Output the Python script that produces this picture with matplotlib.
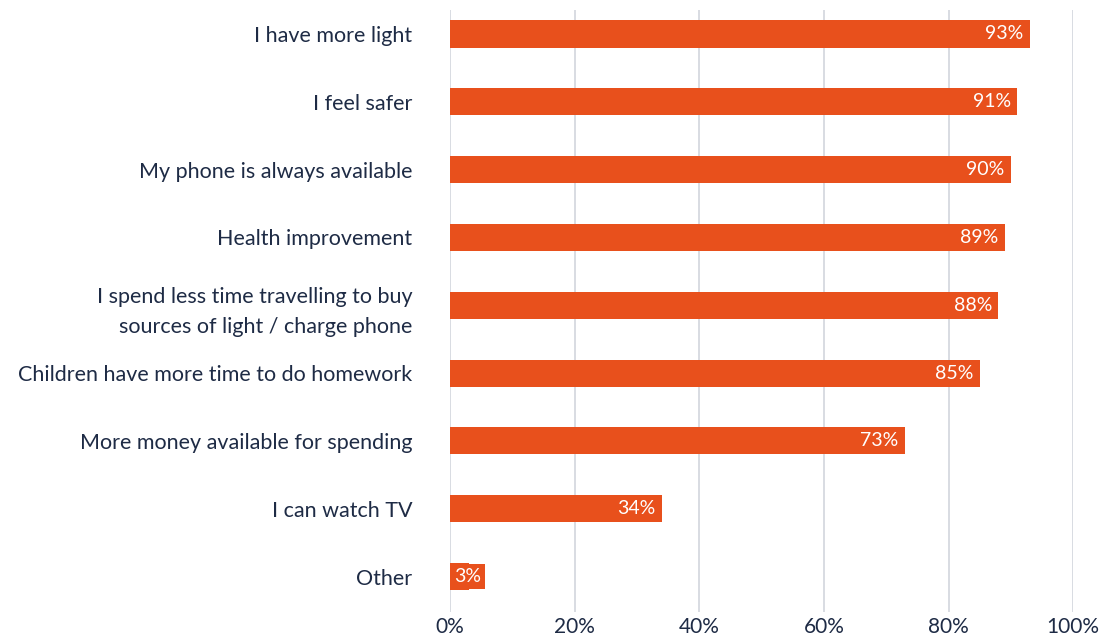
import matplotlib.pyplot as plt
from matplotlib.ticker import FixedLocator

categories = [
    "I have more light",
    "I feel safer",
    "My phone is always available",
    "Health improvement",
    "I spend less time travelling to buy\nsources of light / charge phone",
    "Children have more time to do homework",
    "More money available for spending",
    "I can watch TV",
    "Other",
]
values = [93, 91, 90, 89, 88, 85, 73, 34, 3]
xticks = [0, 20, 40, 60, 80, 100]
xtick_labels = ["0%", "20%", "40%", "60%", "80%", "100%"]

BAR = "#E8501C"
TEXT = "#1E2B45"
GRID = "#D5D9DF"

plt.rcParams['font.family'] = ['Lato', 'DejaVu Sans']

fig = plt.figure(figsize=(11.03, 6.4), dpi=100)
ax = fig.add_axes([0.408, 0.044, 0.565, 0.940])

y = list(range(len(categories)))
ax.barh(y, values, height=0.40, color=BAR, zorder=2)

for yi, v in zip(y, values):
    if v >= 10:
        ax.text(v - 1.0, yi, f"{v}%", ha="right", va="center",
                color="white", fontsize=14, zorder=3)
    else:
        # short bar: label sits in a bar-coloured box so it stays readable
        ax.text(0.65, yi, f"{v}%", ha="left", va="center",
                color="white", fontsize=14, zorder=3,
                bbox=dict(boxstyle="square,pad=0.22", fc=BAR, ec="none"))

ax.set_xlim(0, 100)
ax.set_ylim(8.52, -0.35)
ax.xaxis.set_major_locator(FixedLocator(xticks))
ax.set_xticklabels(xtick_labels, fontsize=15, color=TEXT)
ax.set_yticks(y)
ax.set_yticklabels(categories, fontsize=15.5, color=TEXT, linespacing=1.6)
ax.tick_params(axis="both", length=0)
ax.tick_params(axis="y", pad=27)
ax.tick_params(axis="x", pad=4)
ax.grid(axis="x", color=GRID, linewidth=1.3, zorder=0)
for s in ax.spines.values():
    s.set_visible(False)

fig.savefig("out.png", dpi=100, facecolor="white")
